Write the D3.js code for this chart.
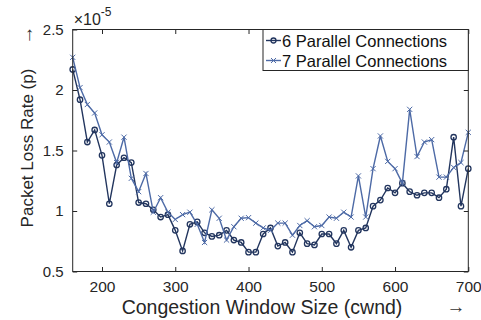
<!DOCTYPE html>
<html><head><meta charset="utf-8">
<script src="https://cdn.jsdelivr.net/npm/d3@7"></script>
<style>body{margin:0;background:#fff}svg{display:block;font-family:"Liberation Sans",Arial,sans-serif}</style>
</head><body><svg id="c" width="481" height="320"></svg>
<script>
const cwnd = [160,170,180,190,200,210,220,230,240,250,260,270,280,290,300,310,320,330,340,350,360,370,380,390,400,410,420,430,440,450,460,470,480,490,500,510,520,530,540,550,560,570,580,590,600,610,620,630,640,650,660,670,680,690,700];
const p6 = [2.17,1.92,1.57,1.67,1.46,1.06,1.38,1.44,1.40,1.07,1.06,1.01,0.95,0.97,0.84,0.67,0.89,0.91,0.82,0.79,0.80,0.84,0.76,0.74,0.66,0.66,0.81,0.86,0.71,0.74,0.66,0.82,0.73,0.72,0.81,0.81,0.73,0.84,0.70,0.84,0.86,1.04,1.09,1.19,1.15,1.23,1.16,1.13,1.15,1.15,1.11,1.18,1.61,1.04,1.35];
const p7 = [2.27,2.02,1.88,1.81,1.63,1.57,1.40,1.61,1.27,1.16,1.31,0.99,1.11,0.99,0.93,0.97,0.99,0.89,0.74,1.01,0.94,0.76,0.87,0.94,0.945,0.90,0.86,0.84,0.90,0.90,0.80,0.88,0.92,0.87,0.88,0.95,0.94,0.99,0.95,1.29,0.95,1.35,1.62,1.41,1.35,1.23,1.84,1.45,1.57,1.59,1.28,1.28,1.36,1.40,1.65];
const xTicks = [200,300,400,500,600,700];
const yTicks = [0.5,1,1.5,2,2.5];
const seriesNames = ["6 Parallel Connections","7 Parallel Connections"];
const colors = ["#22355e","#4d6aa6"];

const svg = d3.select("#c");
const L=72.7, R=468.3, T=29.5, B=271.5;
const x = d3.scaleLinear().domain([160,700]).range([L,R]);
const y = d3.scaleLinear().domain([0.5,2.5]).range([B,T]);
const axisColor="#262626";

// series
const line = d3.line().x((d,i)=>x(cwnd[i])).y(d=>y(d));
const g = svg.append("g");
[p6,p7].forEach((s,k)=>{
  g.append("path").attr("d",line(s)).attr("fill","none").attr("stroke",colors[k]).attr("stroke-width",1.4);
  if(k===0){
    g.selectAll(null).data(s).enter().append("circle")
      .attr("cx",(d,i)=>x(cwnd[i])).attr("cy",d=>y(d)).attr("r",2.7)
      .attr("fill","none").attr("stroke",colors[k]).attr("stroke-width",1.3);
  } else {
    g.selectAll(null).data(s).enter().append("path")
      .attr("d",(d,i)=>{const cx=x(cwnd[i]),cy=y(d),r=2.6;return `M${cx-r},${cy-r}L${cx+r},${cy+r}M${cx-r},${cy+r}L${cx+r},${cy-r}`;})
      .attr("stroke",colors[k]).attr("stroke-width",1);
  }
});

// axes
const tl=4.5;
const ax = svg.append("g");
ax.append("g").attr("transform",`translate(0,${B})`).call(d3.axisBottom(x).tickValues(xTicks).tickSize(-tl).tickPadding(9))
  .call(a=>{a.select(".domain").remove();a.selectAll("line").attr("stroke",axisColor);a.selectAll("text").attr("font-size",15.5).attr("fill","#262626").attr("font-family","Liberation Sans, Arial, sans-serif");});
ax.append("g").attr("transform",`translate(0,${T})`).call(d3.axisTop(x).tickValues(xTicks).tickSize(-tl).tickFormat(""))
  .call(a=>{a.select(".domain").remove();a.selectAll("line").attr("stroke",axisColor);});
ax.append("g").attr("transform",`translate(${L},0)`).call(d3.axisLeft(y).tickValues(yTicks).tickSize(-tl).tickPadding(9).tickFormat(d3.format("")))
  .call(a=>{a.select(".domain").remove();a.selectAll("line").attr("stroke",axisColor);a.selectAll("text").attr("font-size",15).attr("fill","#262626").attr("font-family","Liberation Sans, Arial, sans-serif");});
ax.append("g").attr("transform",`translate(${R},0)`).call(d3.axisRight(y).tickValues(yTicks).tickSize(-tl).tickFormat(""))
  .call(a=>{a.select(".domain").remove();a.selectAll("line").attr("stroke",axisColor);});
svg.append("rect").attr("x",L).attr("y",T).attr("width",R-L).attr("height",B-T).attr("fill","none").attr("stroke",axisColor).attr("stroke-width",1);

// exponent
const ex = svg.append("text").attr("x",L+1).attr("y",25).attr("font-size",16).attr("fill","#262626");
ex.append("tspan").text("×10");
ex.append("tspan").attr("dy",-9).attr("font-size",12).text("-5");

// labels
svg.append("text").attr("x",262).attr("y",314).attr("text-anchor","middle").attr("font-size",19.5).attr("fill","#262626").text("Congestion Window Size (cwnd)");
svg.append("text").attr("x",456).attr("y",313).attr("text-anchor","middle").attr("font-size",19).attr("font-family","Liberation Serif").attr("fill","#333").text("→");
svg.append("text").attr("transform","translate(33,35) rotate(-90)").attr("text-anchor","middle").attr("font-size",19).attr("font-family","Liberation Serif").attr("fill","#333").text("→");
svg.append("text").attr("transform","translate(33,148) rotate(-90)").attr("text-anchor","middle").attr("font-size",17).attr("fill","#262626").text("Packet Loss Rate (p)");

// legend
const lg = svg.append("g");
lg.append("rect").attr("x",263).attr("y",T).attr("width",R-263).attr("height",41).attr("fill","#fff").attr("stroke",axisColor).attr("stroke-width",1);
seriesNames.forEach((n,k)=>{
  const cy = 40.5 + k*20;
  lg.append("line").attr("x1",266).attr("x2",281).attr("y1",cy).attr("y2",cy).attr("stroke",colors[k]).attr("stroke-width",1.4);
  if(k===0) lg.append("circle").attr("cx",273.5).attr("cy",cy).attr("r",2.5).attr("fill","none").attr("stroke",colors[k]).attr("stroke-width",1.3);
  else lg.append("path").attr("d",`M271,${cy-2.5}L276,${cy+2.5}M271,${cy+2.5}L276,${cy-2.5}`).attr("stroke",colors[k]).attr("stroke-width",1);
  lg.append("text").attr("x",282).attr("y",cy+6).attr("font-size",16.5).attr("fill","#111").text(n);
});
</script></body></html>
